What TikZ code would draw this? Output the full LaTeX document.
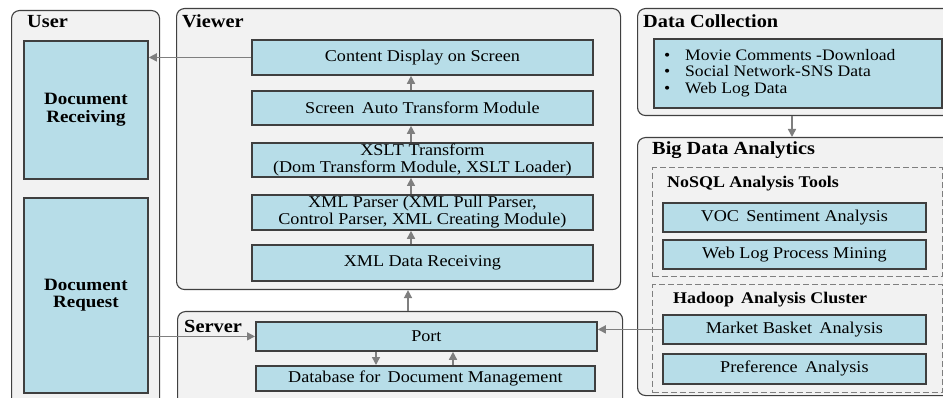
\documentclass[tikz,border=0pt]{standalone}
\usepackage{fontspec}
\setmainfont{Liberation Serif}[FakeStretch=1.1]
\usetikzlibrary{arrows.meta,calc}

\definecolor{panelfill}{HTML}{F2F2F2}
\definecolor{panelline}{HTML}{404040}
\definecolor{boxfill}{HTML}{B7DDE8}
\definecolor{boxline}{HTML}{3F3F3F}
\definecolor{flowgray}{HTML}{7F7F7F}

\tikzset{
  panel/.style={draw=panelline, fill=panelfill, line width=1.1pt, rounded corners=8pt, anchor=north west, inner sep=0pt},
  group/.style={draw=flowgray, line width=1.4pt, dash pattern=on 6pt off 3pt, anchor=north west, inner sep=0pt},
  box/.style={draw=boxline, fill=boxfill, line width=1.8pt, anchor=north west, inner sep=1pt, align=center,
              font=\fontsize{16.5}{17}\selectfont},
  bigbox/.style={box, font=\fontsize{17.3}{17.5}\selectfont\bfseries},
  ptitle/.style={anchor=base west, inner sep=0pt, font=\fontsize{18.5}{20}\selectfont\bfseries},
  gtitle/.style={anchor=base west, inner sep=0pt, font=\fontsize{16.3}{18}\selectfont\bfseries},
  flow/.style={draw=flowgray, line width=1.5pt, -{Triangle[length=8pt,width=8pt]}},
}

\newcommand{\itemdot}{\makebox[21pt][l]{\textbullet}}

\begin{document}
\begin{tikzpicture}[x=1pt,y=-1pt]
\useasboundingbox (0,0) rectangle (943,398);
\clip (0,0) rectangle (943,398);
\fill[white] (0,0) rectangle (943,398);

% ---- panels ----
\node[panel, minimum width=148pt, minimum height=420pt] (userp) at (11,10) {};
\node[panel, minimum width=444pt, minimum height=281pt] (viewerp) at (176,8) {};
\node[panel, minimum width=445pt, minimum height=110pt] (serverp) at (177,311) {};
\node[panel, minimum width=330pt, minimum height=107pt] (dcp) at (637,8) {};
\node[panel, minimum width=330pt, minimum height=258pt] (bdap) at (637,137) {};
\node[group, minimum width=289.5pt, minimum height=109pt] (nosqlg) at (652,167) {};
\node[group, minimum width=289.5pt, minimum height=108pt] (hadoopg) at (652,284) {};

% ---- panel titles ----
\node[ptitle] (tuser) at (27,28) {User};
\node[ptitle] (tviewer) at (182,28) {Viewer};
\node[ptitle] (tserver) at (184,332) {Server};
\node[ptitle] (tdc) at (643,28) {Data Collection};
\node[ptitle] (tbda) at (652,155) {Big Data Analytics};
\node[gtitle] (tnosql) at (667,188) {NoSQL Analysis Tools};
\node[gtitle] (thadoop) at (673,304) {Hadoop\, Analysis Cluster};

% ---- user side ----
\node[bigbox, minimum width=124pt, minimum height=138pt] (recv) at (23,40) {Document\\Receiving};
\node[bigbox, minimum width=124pt, minimum height=195pt] (req) at (23,197) {Document\\Request};

% ---- viewer modules ----
\node[box, minimum width=341pt, minimum height=35pt] (display) at (251,39) {Content Display on Screen};
\node[box, minimum width=341pt, minimum height=34pt] (autotf) at (251,90) {Screen\, Auto Transform Module};
\node[box, minimum width=341pt, minimum height=34pt] (xslt) at (251,142) {XSLT Transform\\(Dom Transform Module, XSLT Loader)};
\node[box, minimum width=341pt, minimum height=35pt] (parser) at (251,194) {XML Parser (XML Pull Parser,\\Control Parser, XML Creating Module)};
\node[box, minimum width=341pt, minimum height=36pt] (xmlrecv) at (251,244) {XML Data Receiving};

% ---- server modules ----
\node[box, minimum width=341pt, minimum height=29pt] (port) at (255,321) {Port};
\node[box, minimum width=339pt, minimum height=25pt] (db) at (255,365) {Database for\, Document Management};

% ---- data collection ----
\node[box, minimum width=288pt, minimum height=69pt] (dcbox) at (653,38) {};
\node[anchor=west, inner sep=0pt, align=left, font=\fontsize{16}{16.5}\selectfont] (dclist) at (664,73)
  {\itemdot Movie Comments -Download\\
   \itemdot Social Network-SNS Data\\
   \itemdot Web Log Data};

% ---- analytics ----
\node[box, minimum width=263pt, minimum height=29pt] (voc) at (662,202) {VOC\, Sentiment Analysis};
\node[box, minimum width=263pt, minimum height=29pt] (weblog) at (662,239) {Web Log Process Mining};
\node[box, minimum width=263pt, minimum height=29pt] (basket) at (662,314) {Market Basket\, Analysis};
\node[box, minimum width=263pt, minimum height=30pt] (pref) at (662,353) {Preference\, Analysis};

% ---- connectors ----
\coordinate (vx) at (411,0);
\coordinate (sx) at (408,0);
\coordinate (dx) at (376,0);
\coordinate (ux) at (453,0);
\coordinate (cx) at (792,0);

\draw[flow] (display.west) -- (display.west -| recv.east);
\draw[flow] (autotf.north -| vx) -- (display.south -| vx);
\draw[flow] (xslt.north -| vx) -- (autotf.south -| vx);
\draw[flow] (parser.north -| vx) -- (xslt.south -| vx);
\draw[flow] (xmlrecv.north -| vx) -- (parser.south -| vx);
\draw[flow] (serverp.north -| sx) -- (viewerp.south -| sx);
\draw[flow] (port.south -| dx) -- (db.north -| dx);
\draw[flow] (db.north -| ux) -- (port.south -| ux);
\draw[flow] (port.west -| req.east) -- (port.west);
\draw[flow] (basket.west) -- (basket.west -| port.east);
\draw[flow] (dcp.south -| cx) -- (bdap.north -| cx);
\end{tikzpicture}
\end{document}
